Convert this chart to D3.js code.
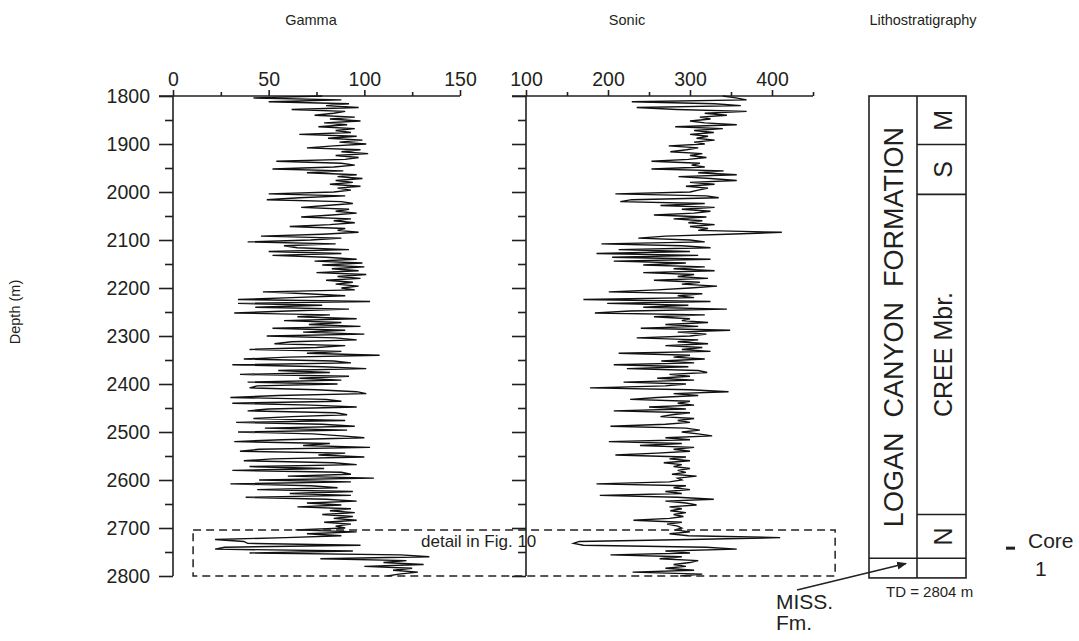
<!DOCTYPE html>
<html>
<head>
<meta charset="utf-8">
<script src="https://cdn.jsdelivr.net/npm/d3@7"></script>
<style>
   body { margin: 0; background: #fff; }
   svg text { font-family: "Liberation Sans", Arial, sans-serif; fill: #231f20; }
</style>
</head>
<body>
<div id="log"></div>
<script>
// Echantillonnage du log : une valeur tous les 4 m à partir de 1800 m
const depthStart = 1800
const depthStep = 4

// Gamma (API)
const gammaValues = [
   78, 42, 88, 50, 92, 80, 97, 62, 90, 84, 74, 95, 82, 98, 79, 91, 76, 95, 85, 93, 66, 96, 81, 99, 87,
   101, 84, 70, 98, 88, 102, 85, 97, 90, 54, 88, 95, 84, 52, 89, 70, 96, 86, 99, 85, 94, 82, 98, 86, 93,
   84, 50, 90, 66, 49, 88, 94, 80, 67, 92, 85, 96, 83, 67, 93, 84, 95, 82, 61, 90, 86, 97, 78, 46, 88,
   72, 39, 85, 58, 65, 92, 50, 88, 52, 80, 96, 74, 99, 78, 100, 83, 97, 75, 101, 86, 98, 80, 94, 85, 97,
   88, 95, 47, 70, 90, 62, 34, 103, 34, 78, 43, 92, 60, 32, 82, 65, 96, 58, 88, 71, 98, 52, 90, 68, 100,
   49, 85, 96, 62, 53, 90, 75, 40, 88, 70, 108, 60, 37, 84, 93, 31, 78, 101, 55, 82, 35, 92, 66, 88, 39,
   86, 44, 40, 75, 96, 101, 55, 30, 80, 88, 31, 72, 96, 50, 39, 85, 91, 62, 42, 90, 33, 78, 95, 48, 91,
   34, 73, 88, 100, 57, 32, 82, 68, 103, 45, 35, 90, 76, 100, 52, 37, 84, 96, 40, 79, 31, 88, 93, 60, 105,
   45, 93, 30, 72, 86, 44, 94, 61, 93, 38, 80, 96, 70, 88, 65, 93, 82, 95, 78, 94, 84, 96, 79, 93, 85,
   90, 64, 96, 70, 88, 59, 22, 37, 39, 98, 27, 22, 94, 40, 119, 134, 77, 122, 110, 131, 100, 125, 115, 128, 118, 112
]

// Sonic (µs/m)
const sonicValues = [
   340, 356, 369, 229, 330, 362, 235, 284, 369, 318, 345, 312, 325, 300, 318, 357, 282, 340, 305, 329, 300, 322, 308, 330, 305,
   318, 274, 310, 296, 276, 315, 300, 320, 298, 253, 312, 302, 318, 253, 341, 310, 357, 286, 325, 357, 300, 330, 295, 322, 310,
   300, 209, 320, 335, 229, 215, 318, 264, 330, 290, 325, 305, 256, 320, 280, 315, 298, 330, 300, 322, 310, 412, 345, 270, 237,
   300, 318, 192, 290, 325, 213, 300, 186, 310, 205, 325, 207, 295, 243, 318, 280, 330, 243, 305, 285, 322, 256, 312, 290, 333,
   300, 260, 201, 315, 285, 305, 170, 325, 199, 298, 243, 345, 227, 184, 318, 256, 300, 290, 322, 270, 310, 240, 349, 285, 320,
   300, 235, 310, 285, 322, 270, 315, 290, 325, 213, 300, 280, 318, 265, 305, 207, 298, 223, 310, 321, 275, 300, 260, 305, 219,
   295, 270, 178, 300, 347, 280, 310, 260, 227, 300, 285, 305, 250, 295, 207, 300, 278, 264, 305, 285, 300, 270, 203, 295, 312,
   290, 310, 327, 270, 300, 201, 290, 239, 305, 280, 300, 260, 209, 295, 275, 300, 268, 290, 280, 300, 285, 295, 278, 308, 285,
   290, 275, 186, 295, 280, 300, 270, 290, 190, 285, 329, 270, 295, 308, 275, 290, 276, 295, 280, 292, 275, 231, 290, 272, 285,
   290, 282, 300, 275, 298, 410, 300, 165, 158, 170, 320, 357, 270, 300, 203, 290, 263, 310, 300, 280, 295, 270, 305, 230, 315, 288
]

// Axes
const depthTicks = [1800, 1900, 2000, 2100, 2200, 2300, 2400, 2500, 2600, 2700, 2800]
const depthMinorTicks = [1850, 1950, 2050, 2150, 2250, 2350, 2450, 2550, 2650, 2750]
const gammaTicks = [0, 50, 100, 150]
const gammaMinorTicks = [25, 75, 125]
const sonicTicks = [100, 200, 300, 400]
const sonicMinorTicks = [150, 250, 350, 450]

// Lithostratigraphie
const formationName = "LOGAN  CANYON  FORMATION"
const formationBase = 2763
const memberNames = ["M", "S", "CREE Mbr.", "N"]
const memberTops = [1800, 1901, 2005, 2672]
const memberBases = [1901, 2005, 2672, 2763]
const totalDepth = 2804
const coreDepth = 2742

const svg = d3.select("#log")
   .append("svg")
   .attr("width", 1079)
   .attr("height", 641)

const y = d3.scaleLinear().domain([1800, 2800]).range([96, 576])
const xGamma = d3.scaleLinear().domain([0, 150]).range([173, 460])
const xSonic = d3.scaleLinear().domain([100, 450]).range([526, 813])

const fontTick = "19.5px"
const ink = "#231f20"

// Titres des colonnes
svg.append("text").attr("x", 311).attr("y", 25).attr("text-anchor", "middle")
   .style("font-size", "14.5px").text("Gamma")
svg.append("text").attr("x", 627).attr("y", 25).attr("text-anchor", "middle")
   .style("font-size", "14.5px").text("Sonic")
svg.append("text").attr("x", 923).attr("y", 25).attr("text-anchor", "middle")
   .style("font-size", "14.5px").text("Lithostratigraphy")

svg.append("text")
   .attr("transform", "translate(20,312) rotate(-90)")
   .attr("text-anchor", "middle")
   .style("font-size", "14.5px")
   .text("Depth (m)")

function styleAxis(g) {
   g.selectAll("line").attr("stroke", ink).attr("stroke-width", 1.6)
   g.selectAll("text").style("font-size", fontTick).style("font-family", null)
}

// Axe des profondeurs (avec labels) et axe du sonic (sans labels)
function depthAxis(x, withLabels) {
   const gMaj = svg.append("g").attr("transform", `translate(${x},0)`)
      .call(d3.axisLeft(y).tickValues(depthTicks).tickSize(14).tickPadding(9)
         .tickFormat(withLabels ? d3.format("d") : ""))
   const gMin = svg.append("g").attr("transform", `translate(${x},0)`)
      .call(d3.axisLeft(y).tickValues(depthMinorTicks).tickSize(8).tickFormat(""))
   gMin.select("path.domain").remove()
   gMaj.select("path.domain").attr("stroke", ink).attr("stroke-width", 1.6)
      .attr("d", `M0,${y(1800)}V${y(2800)}`)
   styleAxis(gMaj)
   styleAxis(gMin)
}
depthAxis(xGamma(0), true)
depthAxis(xSonic(100), false)

// Axes du haut
function topAxis(scale, ticks, minor) {
   const gMaj = svg.append("g").attr("transform", `translate(0,${y(1800)})`)
      .call(d3.axisTop(scale).tickValues(ticks).tickSize(6).tickPadding(4).tickFormat(d3.format("d")))
   const gMin = svg.append("g").attr("transform", `translate(0,${y(1800)})`)
      .call(d3.axisTop(scale).tickValues(minor).tickSize(4).tickFormat(""))
   gMin.select("path.domain").remove()
   const r = scale.range()
   gMaj.select("path.domain").attr("d", `M${r[0] - 14},0H${r[1]}`)
      .attr("stroke", ink).attr("stroke-width", 1.6)
   styleAxis(gMaj)
   styleAxis(gMin)
}
topAxis(xGamma, gammaTicks, gammaMinorTicks)
topAxis(xSonic, sonicTicks, sonicMinorTicks)

// Courbes
const depthOf = i => depthStart + i * depthStep

svg.append("path")
   .datum(gammaValues)
   .attr("fill", "none")
   .attr("stroke", "#111")
   .attr("stroke-width", 1.4)
   .attr("d", d3.line().x(v => xGamma(v)).y((v, i) => y(depthOf(i))))

svg.append("path")
   .datum(sonicValues)
   .attr("fill", "none")
   .attr("stroke", "#111")
   .attr("stroke-width", 1.4)
   .attr("d", d3.line().x(v => xSonic(v)).y((v, i) => y(depthOf(i))))

// Cadre "detail in Fig. 10"
svg.append("rect")
   .attr("x", xGamma(10.5))
   .attr("y", y(2704))
   .attr("width", xSonic(477) - xGamma(10.5))
   .attr("height", y(2800) - y(2704))
   .attr("fill", "none")
   .attr("stroke", ink)
   .attr("stroke-width", 1.5)
   .attr("stroke-dasharray", "8,5")

svg.append("text").attr("x", 421).attr("y", 547)
   .style("font-size", "17px").text("detail in Fig. 10")

// Colonne lithostratigraphique
const colLeft = 869, colMid = 917, colRight = 966
const litho = svg.append("g").attr("fill", "none").attr("stroke", ink).attr("stroke-width", 1.6)

litho.append("rect").attr("x", colLeft).attr("y", y(1800))
   .attr("width", colRight - colLeft).attr("height", y(totalDepth) - y(1800))
litho.append("line").attr("x1", colMid).attr("x2", colMid).attr("y1", y(1800)).attr("y2", y(totalDepth))
litho.append("line").attr("x1", colLeft).attr("x2", colRight).attr("y1", y(formationBase)).attr("y2", y(formationBase))
memberBases.slice(0, -1).forEach(b => {
   litho.append("line").attr("x1", colMid).attr("x2", colRight).attr("y1", y(b)).attr("y2", y(b))
})

svg.append("text")
   .attr("transform", `translate(${(colLeft + colMid) / 2 + 1},${y((1800 + formationBase) / 2)}) rotate(-90)`)
   .attr("text-anchor", "middle")
   .attr("dominant-baseline", "central")
   .style("font-size", "27px")
   .style("white-space", "pre")
   .text(formationName)

memberNames.forEach((name, i) => {
   svg.append("text")
      .attr("transform", `translate(${(colMid + colRight) / 2 + 1},${y((memberTops[i] + memberBases[i]) / 2)}) rotate(-90)`)
      .attr("text-anchor", "middle")
      .attr("dominant-baseline", "central")
      .style("font-size", "25px")
      .text(name)
})

svg.append("text").attr("x", 886).attr("y", 597)
   .style("font-size", "15px").text("TD = " + totalDepth + " m")

// Flèche MISS. Fm.
svg.append("defs").append("marker")
   .attr("id", "fleche")
   .attr("viewBox", "0 0 10 10")
   .attr("refX", 9).attr("refY", 5)
   .attr("markerWidth", 7).attr("markerHeight", 7)
   .attr("orient", "auto")
   .append("path").attr("d", "M0,1 L10,5 L0,9 Z").attr("fill", ink)

svg.append("line")
   .attr("x1", 797).attr("y1", 590)
   .attr("x2", 906).attr("y2", y(2774))
   .attr("stroke", ink).attr("stroke-width", 1.4)
   .attr("marker-end", "url(#fleche)")

svg.append("text").attr("x", 776).attr("y", 609).style("font-size", "21px").text("MISS.")
svg.append("text").attr("x", 776).attr("y", 630).style("font-size", "21px").text("Fm.")

// Carotte
svg.append("rect").attr("x", 1006).attr("y", y(coreDepth) - 1.5).attr("width", 9).attr("height", 3).attr("fill", ink)
svg.append("text").attr("x", 1028).attr("y", 548).style("font-size", "21px").text("Core")
svg.append("text").attr("x", 1035).attr("y", 576).style("font-size", "21px").text("1")
</script>
</body>
</html>
